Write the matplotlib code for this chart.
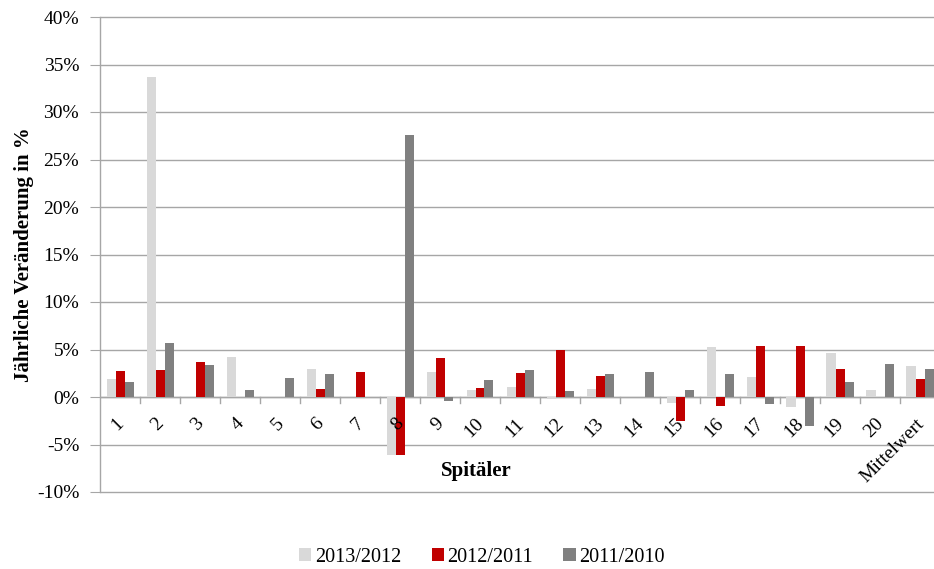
import numpy as np
import matplotlib
matplotlib.use("Agg")
import matplotlib.pyplot as plt
from matplotlib.ticker import FuncFormatter
from matplotlib.patches import Patch

plt.rcParams['font.family'] = ['Liberation Serif', 'DejaVu Serif']

categories = [str(i) for i in range(1, 21)] + ["Mittelwert"]
series_names = ["2013/2012", "2012/2011", "2011/2010"]
colors = ["#D9D9D9", "#C00000", "#808080"]

# Yearly change in percent per hospital
v_2013_2012 = [1.9, 33.7, 0.0, 4.2, 0.0, 2.9, 0.0, -6.1, 2.6, 0.7,
               1.1, -0.2, 0.8, 0.0, -0.6, 5.3, 2.1, -1.0, 4.6, 0.7, 3.3]
v_2012_2011 = [2.7, 2.8, 3.7, 0.0, 0.0, 0.8, 2.6, -6.1, 4.1, 1.0,
               2.5, 4.9, 2.2, 0.0, -2.5, -0.9, 5.4, 5.4, 3.0, 0.0, 1.9]
v_2011_2010 = [1.6, 5.7, 3.4, 0.7, 2.0, 2.4, 0.0, 27.6, -0.4, 1.8,
               2.8, 0.6, 2.4, 2.6, 0.7, 2.4, -0.7, -3.1, 1.6, 3.5, 3.0]
series = [v_2013_2012, v_2012_2011, v_2011_2010]

W, H = 934, 569
fig = plt.figure(figsize=(W / 100, H / 100), dpi=100)
ax = fig.add_axes([100 / W, (H - 492) / H, 840 / W, 475 / H])

x = np.arange(len(categories))
bw = 0.225
for k, (vals, c, name) in enumerate(zip(series, colors, series_names)):
    ax.bar(x + (k - 1) * bw, vals, width=bw, color=c, label=name, zorder=3)

ax.set_xlim(-0.5, len(categories) - 0.5)
ax.set_ylim(-10, 40)
yt = np.arange(-10, 41, 5)
ax.set_yticks(yt)
ax.yaxis.set_major_formatter(FuncFormatter(lambda v, p: f"{v:.0f}%"))
grid_col = '#A6A6A6'
ax.hlines(yt, -0.5, len(categories) - 0.5, colors=grid_col, linewidth=1.0,
          zorder=0, clip_on=False)

for s in ['top', 'right', 'bottom']:
    ax.spines[s].set_visible(False)
ax.spines['left'].set_color(grid_col)
ax.spines['left'].set_linewidth(1.0)

# Zero axis line with tick marks between categories
ax.axhline(0, color=grid_col, linewidth=1.0, zorder=2)
for b in np.arange(0.5, len(categories) - 0.5, 1.0):
    ax.plot([b, b], [0, -0.65], color=grid_col, linewidth=1.0, zorder=2,
            clip_on=False)

ax.set_xticks([])
for i, lab in enumerate(categories):
    ax.text(i + 0.18, -1.9, lab, rotation=45, ha='right', va='top',
            fontsize=14, color='black')

ax.tick_params(axis='y', length=7, color=grid_col, labelsize=14, pad=8)
ax.set_ylabel("Jährliche Veränderung in %", fontsize=15, fontweight='bold')
ax.yaxis.set_label_coords(-0.079, 0.5)
ax.text(8.9, -7.8, "Spitäler", ha='center', va='center', fontsize=15,
        fontweight='bold')

handles = [Patch(facecolor=c, label=n) for c, n in zip(colors, series_names)]
fig.legend(handles=handles, loc='center', bbox_to_anchor=(482 / W, 1 - 557 / H),
           ncol=3, frameon=False, fontsize=14.5, handlelength=0.6,
           handleheight=0.6, handletextpad=0.2, columnspacing=1.5)

fig.savefig("out.png", dpi=100)
